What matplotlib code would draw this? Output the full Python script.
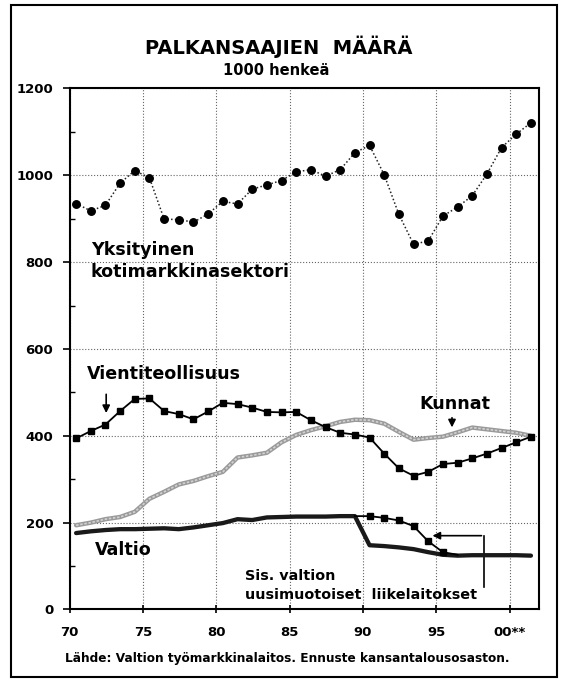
import matplotlib
matplotlib.use("Agg")
import matplotlib.pyplot as plt
from matplotlib.patches import Rectangle
from matplotlib.ticker import MultipleLocator

# vuodet 1970-2001 (pisteet piirretty vuoden keskelle)
years = list(range(70, 102))

yksityinen = [935, 918, 931, 982, 1011, 994, 899, 898, 892, 911, 940, 934, 968, 978,
              988, 1008, 1013, 998, 1013, 1052, 1069, 1001, 910, 841, 849, 906, 927,
              953, 1003, 1064, 1095, 1121]
vienti = [394, 411, 426, 457, 485, 486, 457, 450, 438, 456, 476, 473, 465, 455, 454,
          455, 436, 420, 407, 403, 396, 359, 325, 308, 317, 335, 338, 348, 359, 372,
          385, 398]
kunnat = [194, 200, 208, 213, 225, 255, 271, 288, 296, 307, 317, 350, 355, 361, 385,
          402, 413, 422, 432, 437, 436, 428, 409, 391, 395, 398, 408, 419, 415, 411,
          407, 400]
valtio = [176, 180, 183, 185, 185, 186, 187, 185, 189, 194, 199, 208, 206, 212, 213,
          214, 214, 214, 215, 215, 148, 146, 143, 139, 132, 126, 124, 125, 125, 125,
          125, 124]
# valtio sisältäen uusimuotoiset liikelaitokset, 1989-1996
liike_years = list(range(89, 97))
valtio_liike = [215, 215, 211, 205, 192, 157, 132, 126]

xticks = [70, 75, 80, 85, 90, 95, 100]
xticklabels = ["70", "75", "80", "85", "90", "95", "00**"]

OFF = 0.45
x = [y + OFF for y in years]
xl = [y + OFF for y in liike_years]

fig = plt.figure(figsize=(5.61, 6.80), dpi=100)
ax = fig.add_axes([0.1239, 0.1037, 0.8369, 0.7662])

ax.plot(x, kunnat, color="#9a9a9a", lw=3.2, solid_capstyle="round", zorder=2)
ax.plot(x, kunnat, color="#d2d2d2", lw=1.2, linestyle=(0, (1.5, 1)), zorder=2.1)
ax.plot(x, valtio, color="#1a1a1a", lw=3.1, solid_capstyle="round", zorder=3)
ax.plot(xl, valtio_liike, color="k", lw=1.3, marker="s", ms=3.8,
        markevery=list(range(1, 7)), zorder=4)
ax.plot(x, vienti, color="k", lw=1.3, marker="s", ms=3.8, zorder=4)
ax.plot(x, yksityinen, color="#222222", lw=1.1, linestyle=(0, (1, 1.5)), marker="o",
        ms=5.4, mfc="k", mec="k", zorder=4)

ax.set_xlim(70, 102)
ax.set_ylim(0, 1200)
ax.set_xticks(xticks)
ax.set_xticklabels(xticklabels, fontsize=9.5, fontweight="bold")
ax.yaxis.set_major_locator(MultipleLocator(200))
ax.yaxis.set_minor_locator(MultipleLocator(100))
for t in ax.get_yticklabels():
    t.set_fontsize(9.5)
    t.set_fontweight("bold")
ax.tick_params(axis="y", which="major", direction="out", length=5.4, width=1.2, pad=6.3)
ax.tick_params(axis="y", which="minor", direction="in", length=3.6, width=1.0)
ax.tick_params(axis="x", which="major", direction="inout", length=6, width=1.2, pad=9)
ax.grid(True, which="major", linestyle=":", color="0.4", lw=0.8)
for s in ax.spines.values():
    s.set_linewidth(1.5)

tk = dict(fontsize=12.6, fontweight="bold", va="baseline", ha="left")
ax.text(71.45, 816, "Yksityinen", **tk)
ax.text(71.45, 766, "kotimarkkinasektori", **tk)
ax.text(71.17, 530, "Vientiteollisuus", **tk)
ax.text(93.84, 462, "Kunnat", **tk)
ax.text(71.74, 125, "Valtio", **tk)
ax.text(81.97, 68, "Sis. valtion", fontsize=10.4, fontweight="bold", va="baseline")
ax.text(81.97, 25, "uusimuotoiset  liikelaitokset", fontsize=10.4,
        fontweight="bold", va="baseline")

arr = dict(arrowstyle="-|>", color="k", lw=1.2, mutation_scale=11)
ax.annotate("", xy=(72.5, 446), xytext=(72.5, 502), arrowprops=arr)
ax.annotate("", xy=(96.07, 413), xytext=(96.07, 448), arrowprops=arr)
ax.plot([98.27, 98.27], [51, 170], color="k", lw=1.2)
ax.annotate("", xy=(94.55, 170), xytext=(98.27, 170), arrowprops=arr)

fig.text(0.497, 0.9199, "PALKANSAAJIEN  MÄÄRÄ", fontsize=14, fontweight="bold",
         ha="center", va="baseline")
fig.text(0.492, 0.889, "1000 henkeä", fontsize=10.5, fontweight="bold",
         ha="center", va="baseline")
fig.text(0.512, 0.027, "Lähde: Valtion työmarkkinalaitos. Ennuste kansantalousosaston.",
         fontsize=8.7, fontweight="bold", ha="center", va="baseline")

fig.add_artist(Rectangle((0.0196, 0.0037), 0.9733, 0.9889, transform=fig.transFigure,
                         fill=False, lw=1.5, ec="k"))

fig.savefig("out.png", dpi=100)
